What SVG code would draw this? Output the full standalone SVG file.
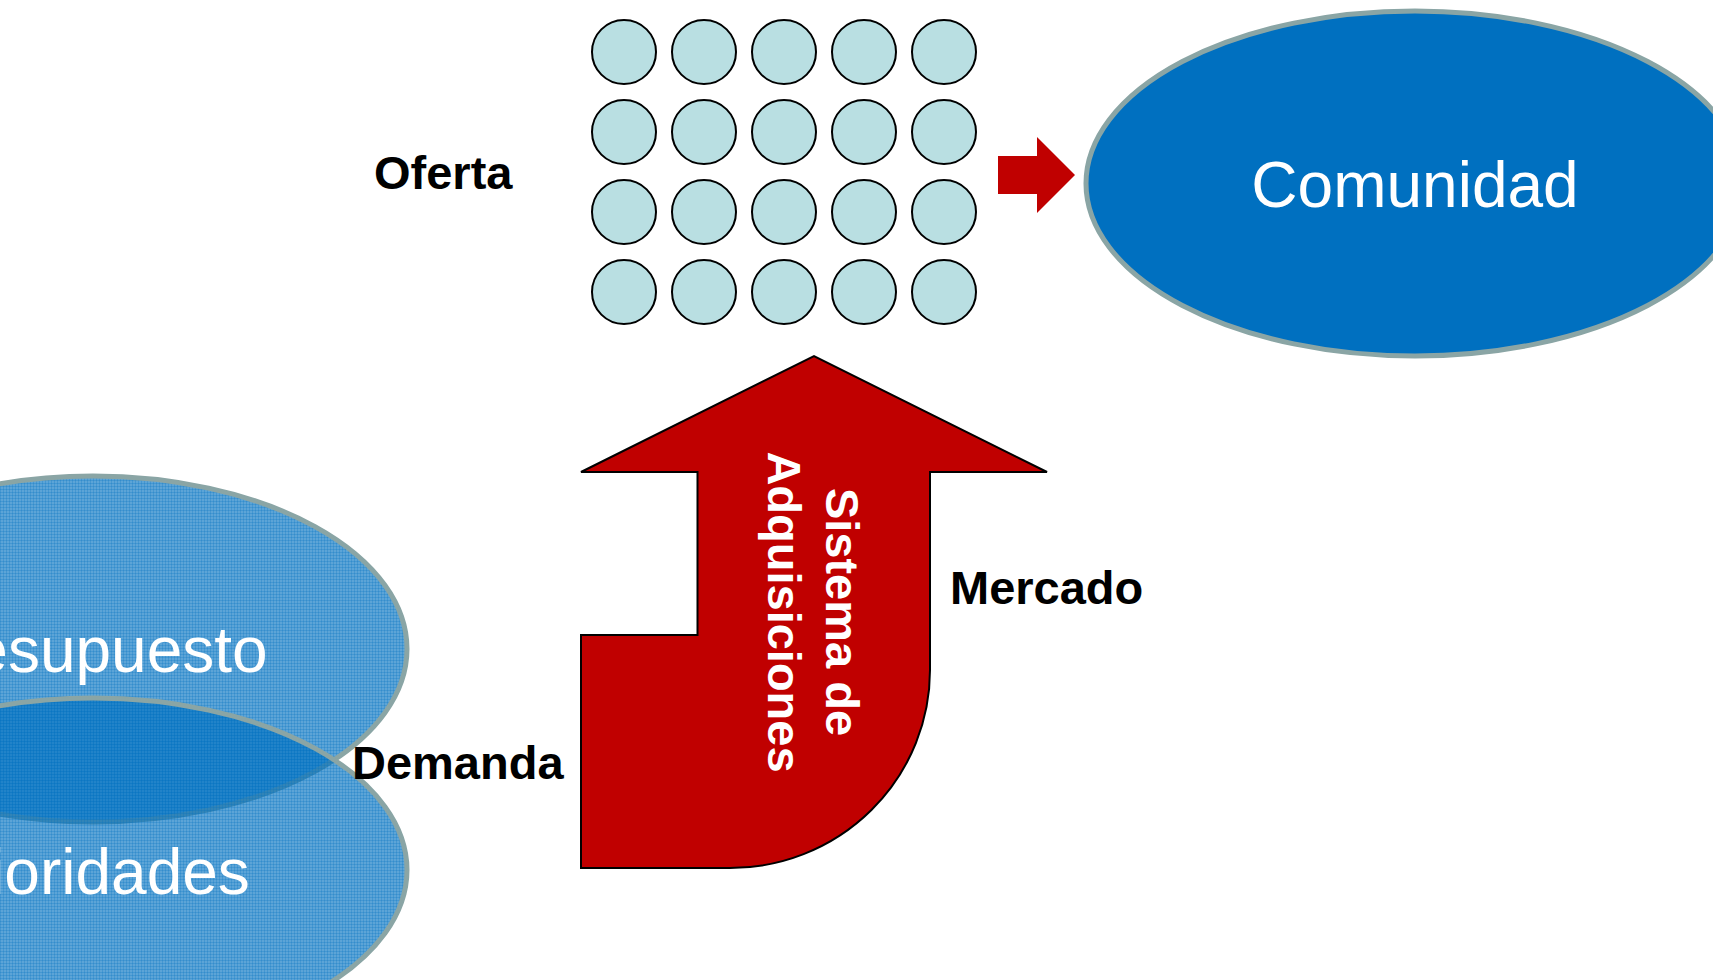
<svg xmlns="http://www.w3.org/2000/svg" width="1713" height="980" viewBox="0 0 1713 980">
<defs>
<pattern id="dith" width="3" height="3" patternUnits="userSpaceOnUse">
<rect width="3" height="3" fill="#0070C0" fill-opacity="0.64"/>
<rect width="3" height="1" fill="#0070C0" fill-opacity="0.25"/>
<rect width="1" height="3" fill="#0070C0" fill-opacity="0.25"/>
</pattern>
</defs>
<style>
.lbl{font-family:"Liberation Sans",Arial,sans-serif;font-weight:bold;font-size:47px;fill:#000}
.big{font-family:"Liberation Sans",Arial,sans-serif;font-size:64px;fill:#fff;text-anchor:middle}
.dot{fill:#B9DFE2;stroke:#000;stroke-width:2}
.oval{stroke:#8AA5A5;stroke-width:5}
.red{fill:#C00000}
</style>
<rect width="1713" height="980" fill="#fff"/>
<g id="presupuesto">
<ellipse class="oval" cx="93" cy="649" rx="314" ry="173" fill="url(#dith)"/>
<text class="big" x="88" y="672">Presupuesto</text>
</g>
<g id="prioridades">
<ellipse class="oval" cx="93" cy="870" rx="314" ry="172" fill="url(#dith)"/>
<text class="big" x="88" y="894">Prioridades</text>
</g>
<g id="oferta">
<g id="oferta-grid">
<circle class="dot" cx="624" cy="52" r="32"/><circle class="dot" cx="704" cy="52" r="32"/><circle class="dot" cx="784" cy="52" r="32"/><circle class="dot" cx="864" cy="52" r="32"/><circle class="dot" cx="944" cy="52" r="32"/>
<circle class="dot" cx="624" cy="132" r="32"/><circle class="dot" cx="704" cy="132" r="32"/><circle class="dot" cx="784" cy="132" r="32"/><circle class="dot" cx="864" cy="132" r="32"/><circle class="dot" cx="944" cy="132" r="32"/>
<circle class="dot" cx="624" cy="212" r="32"/><circle class="dot" cx="704" cy="212" r="32"/><circle class="dot" cx="784" cy="212" r="32"/><circle class="dot" cx="864" cy="212" r="32"/><circle class="dot" cx="944" cy="212" r="32"/>
<circle class="dot" cx="624" cy="292" r="32"/><circle class="dot" cx="704" cy="292" r="32"/><circle class="dot" cx="784" cy="292" r="32"/><circle class="dot" cx="864" cy="292" r="32"/><circle class="dot" cx="944" cy="292" r="32"/>
</g>
<text class="lbl" x="374" y="189">Oferta</text>
</g>
<g id="comunidad">
<ellipse class="oval" cx="1415" cy="183.5" rx="329" ry="172.5" fill="#0070C0"/>
<text class="big" x="1415" y="207">Comunidad</text>
</g>
<g id="sistema">
<path class="red" stroke="#000" stroke-width="2" stroke-linejoin="miter" d="M930,472 V670 A200,198 0 0 1 730,868 H581 V635 H697.5 V472 H581 L814,356 L1047,472 Z"/>
<text transform="translate(826,612) rotate(90)" text-anchor="middle" style="font-family:'Liberation Sans',Arial,sans-serif;font-weight:bold;font-size:47px;fill:#fff"><tspan x="0" y="0">Sistema de</tspan><tspan x="0" y="58">Adquisiciones</tspan></text>
</g>
<g id="mercado"><text class="lbl" x="950" y="604">Mercado</text></g>
<g id="demanda"><text class="lbl" x="352" y="779">Demanda</text></g>
<g id="connectors">
<path class="red" d="M998,156 H1037 V137 L1075,175 L1037,213 V194 H998 Z"/>
</g>
</svg>
